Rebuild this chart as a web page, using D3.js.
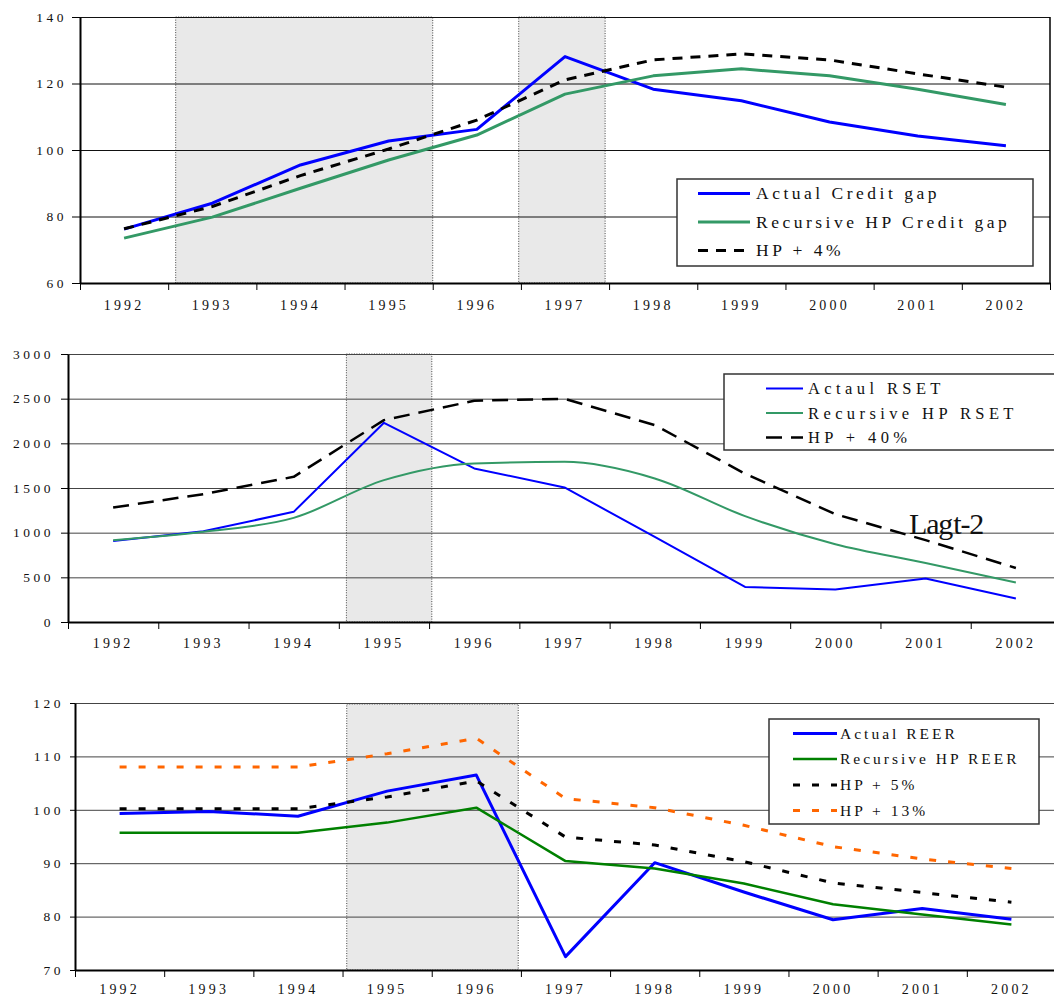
<!DOCTYPE html>
<html><head><meta charset="utf-8">
<script src="https://cdn.jsdelivr.net/npm/d3@7"></script>
<style>body{margin:0;background:#fff}svg{display:block}text{font-family:"Liberation Serif","Times New Roman",serif;fill:#111}</style>
</head><body><svg id="c" width="1054" height="996"></svg>
<script>
// ---------- data ----------
const years = ["1992","1993","1994","1995","1996","1997","1998","1999","2000","2001","2002"];

// Chart 1: Credit gap
const credTicks = [60, 80, 100, 120, 140];
const credActual = [76.2, 84.0, 95.5, 102.7, 106.2, 128.1, 118.3, 114.8, 108.4, 104.2, 101.3];
const credRecHP  = [73.5, 79.8, 88.5, 97.0, 104.5, 116.8, 122.3, 124.4, 122.3, 118.3, 113.7];
const credHP4    = [76.3, 83.0, 92.3, 100.3, 109.0, 121.1, 127.1, 128.9, 127.1, 122.9, 118.9];
const credShade  = [[1.085, 4.0], [4.975, 5.955]];   // in year-band units
const credLabels = ["Actual Credit gap", "Recursive HP Credit gap", "HP + 4%"];

// Chart 2: RSET
const rsetTicks  = [0, 500, 1000, 1500, 2000, 2500, 3000];
const rsetActual = [908, 1016, 1233, 2230, 1719, 1506, 953, 392, 363, 486, 262];
const rsetRecHP  = [916, 1009, 1166, 1588, 1775, 1793, 1607, 1185, 871, 661, 442];
const rsetHP40   = [1282, 1431, 1625, 2260, 2477, 2499, 2204, 1660, 1207, 916, 605];
const rsetShade  = [[3.084, 4.03]];
const rsetLabels = ["Actaul RSET", "Recursive HP RSET", "HP + 40%"];
const rsetNote   = "Lag t-2";

// Chart 3: REER
const reerTicks  = [70, 80, 90, 100, 110, 120];
const reerActual = [99.3, 99.7, 98.8, 103.5, 106.5, 72.5, 90.1, 84.6, 79.4, 81.5, 79.5];
const reerRecHP  = [95.7, 95.7, 95.7, 97.6, 100.4, 90.4, 89.0, 86.2, 82.3, 80.4, 78.5];
const reerHP5    = [100.2, 100.2, 100.2, 102.4, 105.4, 94.9, 93.4, 90.3, 86.3, 84.5, 82.7];
const reerHP13   = [108.0, 108.0, 108.0, 110.5, 113.4, 102.1, 100.4, 97.1, 93.1, 90.8, 89.0];
const reerShade  = [[3.047, 4.97]];
const reerLabels = ["Actual REER", "Recursive HP REER", "HP + 5%", "HP + 13%"];

// ---------- drawing ----------
const svg = d3.select("#c");
svg.append("rect").attr("width", 1054).attr("height", 996).attr("fill", "#fff");

function drawChart(cfg) {
  const g = svg.append("g");
  const xBand = d3.scaleBand().domain(years).range([cfg.x0, cfg.x1]);
  const xIdx = d3.scaleLinear().domain([0, years.length]).range([cfg.x0, cfg.x1]);
  const y = d3.scaleLinear().domain(d3.extent(cfg.yTicks)).range([cfg.yBot, cfg.yTop]);
  const cx = i => xBand(years[i]) + xBand.bandwidth() / 2;

  // shaded periods
  cfg.shades.forEach(([a, b]) => {
    g.append("rect")
      .attr("x", xIdx(a)).attr("y", cfg.shadeTop)
      .attr("width", xIdx(b) - xIdx(a)).attr("height", cfg.yBot - cfg.shadeTop)
      .attr("fill", "#e9e9e9").attr("stroke", "#444").attr("stroke-width", 1)
      .attr("stroke-dasharray", "1,1.5");
  });

  // gridlines
  const grid = g.append("g").attr("transform", `translate(${cfg.x0},0)`)
    .call(d3.axisLeft(y).tickValues(cfg.yTicks).tickSize(-(cfg.x1 - cfg.x0)).tickSizeOuter(0).tickFormat(""));
  grid.select(".domain").remove();
  grid.selectAll("line").attr("stroke", cfg.gridColor).attr("stroke-width", 1);

  // y axis
  const ya = g.append("g").attr("transform", `translate(${cfg.x0},0)`)
    .call(d3.axisLeft(y).tickValues(cfg.yTicks).tickSize(cfg.yTickLen).tickSizeOuter(0)
      .tickPadding(cfg.yPad).tickFormat(d3.format("d")));
  ya.select(".domain").attr("stroke", "#000").attr("stroke-width", 2);
  ya.selectAll("line").attr("stroke", "#000");
  ya.selectAll("text").attr("font-size", 13.5).attr("letter-spacing", "3.5px")
    .attr("font-family", "Liberation Serif").attr("fill", "#111");

  // x axis: boundary ticks
  const xt = g.append("g").attr("transform", `translate(0,${cfg.yBot})`)
    .call(d3.axisBottom(xIdx).tickValues(d3.range(years.length + 1)).tickSize(7).tickSizeOuter(0).tickFormat(""));
  xt.select(".domain").attr("stroke", "#000").attr("stroke-width", 2);
  xt.selectAll("line").attr("stroke", "#000");
  // x axis: labels at band centres
  const xl = g.append("g").attr("transform", `translate(0,${cfg.yBot})`)
    .call(d3.axisBottom(xBand).tickSize(0).tickPadding(cfg.xPad));
  xl.select(".domain").remove();
  xl.selectAll("text").attr("font-size", 14).attr("letter-spacing", "3.2px")
    .attr("font-family", "Liberation Serif").attr("fill", "#111");

  if (cfg.rightBorder) {
    g.append("line").attr("x1", cfg.x1).attr("x2", cfg.x1).attr("y1", cfg.yTop).attr("y2", cfg.yBot)
      .attr("stroke", "#000").attr("stroke-width", 1.5);
  }

  // series
  cfg.series.forEach(s => {
    const line = d3.line().x((d, i) => cx(i)).y(d => y(d)).curve(s.curve || d3.curveLinear);
    g.append("path").datum(s.values).attr("d", line)
      .attr("fill", "none").attr("stroke", s.color).attr("stroke-width", s.width)
      .attr("stroke-dasharray", s.dash || null).attr("stroke-linejoin", "round");
  });

  // note
  if (cfg.note) {
    g.append("text").attr("x", cfg.note.x).attr("y", cfg.note.y).text(cfg.note.text)
      .attr("font-size", 30).attr("letter-spacing", "-1.2px").attr("word-spacing", "-5px")
      .attr("font-family", "Liberation Serif").attr("fill", "#000");
  }

  // legend
  const L = cfg.legend;
  const lg = g.append("g");
  lg.append("rect").attr("x", L.x).attr("y", L.y).attr("width", L.w).attr("height", L.h)
    .attr("fill", "#fff").attr("stroke", "#333").attr("stroke-width", 1.5);
  cfg.series.forEach((s, i) => {
    const ry = L.rows[i];
    lg.append("line").attr("x1", L.lx1).attr("x2", L.lx2).attr("y1", ry).attr("y2", ry)
      .attr("stroke", s.color).attr("stroke-width", s.width).attr("stroke-dasharray", s.dash || null);
    lg.append("text").attr("x", L.tx).attr("y", ry).attr("dy", "0.34em").text(s.label)
      .attr("font-size", L.fs).attr("letter-spacing", L.ls + "px")
      .attr("font-family", "Liberation Serif").attr("fill", "#111");
  });
}

drawChart({
  x0: 80, x1: 1050, yTop: 17, yBot: 283, shadeTop: 17, gridColor: "#111",
  yTicks: credTicks, yTickLen: 8, yPad: 5, xPad: 17, rightBorder: true,
  shades: credShade,
  series: [
    { values: credActual, color: "#0000ff", width: 3, label: credLabels[0] },
    { values: credRecHP, color: "#339966", width: 3, label: credLabels[1] },
    { values: credHP4, color: "#000", width: 3, dash: "10,8", label: credLabels[2] }
  ],
  legend: { x: 677, y: 179, w: 356, h: 87, lx1: 698, lx2: 750, tx: 756, rows: [193.5, 222, 250.5], fs: 17.5, ls: 3.5 }
});

drawChart({
  x0: 68, x1: 1061, yTop: 354, yBot: 622, shadeTop: 354, gridColor: "#444",
  yTicks: rsetTicks, yTickLen: 7, yPad: 7, xPad: 16,
  shades: rsetShade,
  series: [
    { values: rsetActual, color: "#0000ff", width: 2, label: rsetLabels[0] },
    { values: rsetRecHP, color: "#339966", width: 2, curve: d3.curveMonotoneX, label: rsetLabels[1] },
    { values: rsetHP40, color: "#000", width: 2.5, dash: "16,9", label: rsetLabels[2] }
  ],
  note: { x: 909, y: 534, text: rsetNote },
  legend: { x: 724, y: 374, w: 340, h: 76, lx1: 766, lx2: 803, tx: 808, rows: [388.5, 413, 437.5], fs: 16.5, ls: 4.4 }
});

drawChart({
  x0: 75, x1: 1056, yTop: 703, yBot: 970, shadeTop: 704, gridColor: "#444",
  yTicks: reerTicks, yTickLen: 5, yPad: 6, xPad: 14,
  shades: reerShade,
  series: [
    { values: reerActual, color: "#0000ff", width: 3, label: reerLabels[0] },
    { values: reerRecHP, color: "#008000", width: 2.5, label: reerLabels[1] },
    { values: reerHP5, color: "#000", width: 3, dash: "7,12", label: reerLabels[2] },
    { values: reerHP13, color: "#ff6600", width: 3, dash: "7,12", label: reerLabels[3] }
  ],
  legend: { x: 769, y: 719, w: 270, h: 105, lx1: 793, lx2: 837, tx: 840, rows: [733.5, 759, 785, 810.5], fs: 15.5, ls: 3 }
});
</script>
</body></html>
